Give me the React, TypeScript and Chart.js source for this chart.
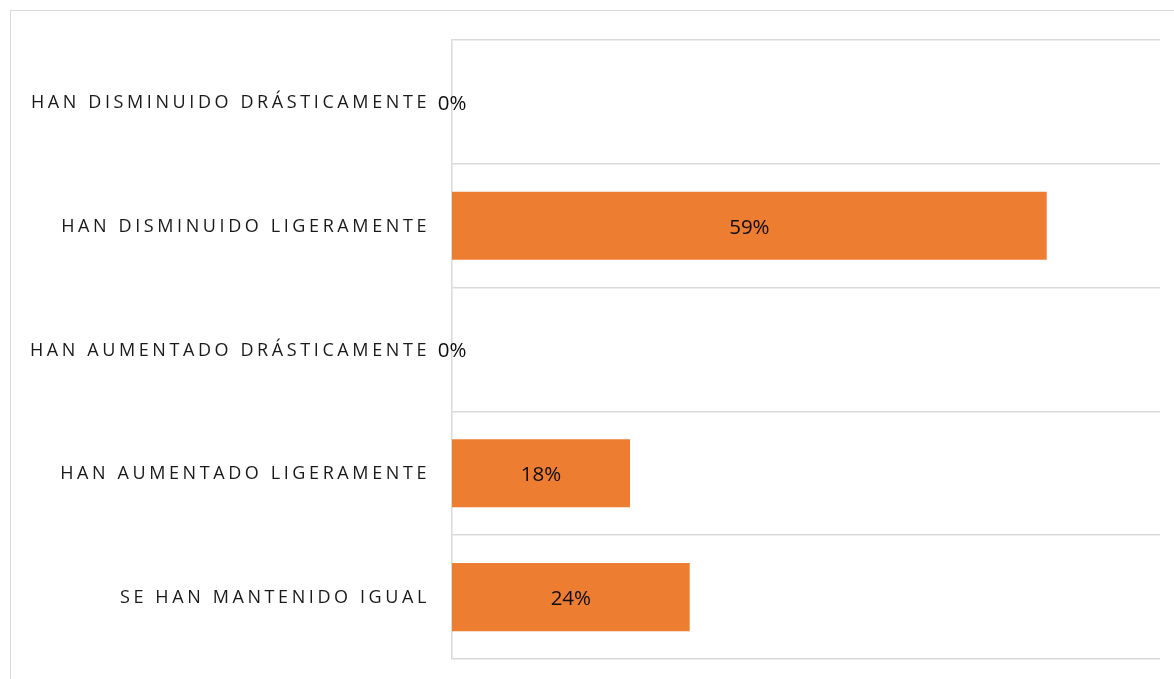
import React, { useEffect, useRef } from "react";
import { Chart, registerables } from "chart.js";

Chart.register(...registerables);

const categories = [
  "HAN DISMINUIDO DRÁSTICAMENTE",
  "HAN DISMINUIDO LIGERAMENTE",
  "HAN AUMENTADO DRÁSTICAMENTE",
  "HAN AUMENTADO LIGERAMENTE",
  "SE HAN MANTENIDO IGUAL",
];
const values = [0, 58.8, 0, 17.6, 23.5];
const valueLabels = ["0%", "59%", "0%", "18%", "24%"];

const FONT = "'Open Sans', 'Noto Sans', sans-serif";

const labelsPlugin = {
  id: "customLabels",
  afterDatasetsDraw(chart: any) {
    const ctx = chart.ctx;
    const meta = chart.getDatasetMeta(0);
    const yScale = chart.scales.y;
    ctx.save();
    // category labels
    ctx.font = `18px ${FONT}`;
    ctx.fillStyle = "#1a1a1a";
    ctx.textAlign = "right";
    ctx.textBaseline = "middle";
    (ctx as any).letterSpacing = "3.6px";
    categories.forEach((c, i) => {
      const y = yScale.getPixelForValue(i);
      ctx.fillText(c, chart.chartArea.left - 22, y + 1);
    });
    (ctx as any).letterSpacing = "0px";
    // value labels
    ctx.font = `20.5px ${FONT}`;
    ctx.fillStyle = "#0d0d0d";
    ctx.textAlign = "center";
    meta.data.forEach((bar: any, i: number) => {
      const cx = (bar.x + bar.base) / 2;
      ctx.fillText(valueLabels[i], cx, bar.y + 2);
    });
    ctx.restore();
  },
};

export default function App() {
  const ref = useRef<HTMLCanvasElement>(null);
  useEffect(() => {
    document.body.style.margin = "0";
    document.body.style.overflow = "hidden";
    const chart = new Chart(ref.current!, {
      type: "bar",
      data: {
        labels: categories,
        datasets: [
          {
            data: values,
            backgroundColor: "#ED7D31",
            borderWidth: 0,
            barPercentage: 0.55,
            categoryPercentage: 1,
          },
        ],
      },
      options: {
        indexAxis: "y",
        animation: false,
        responsive: false,
        maintainAspectRatio: false,
        layout: { padding: { left: 452, right: 14, top: 40, bottom: 20 } },
        plugins: { legend: { display: false }, tooltip: { enabled: false } },
        scales: {
          x: { display: false, min: 0, max: 70 },
          y: {
            display: true,
            ticks: { display: false },
            grid: { color: "#d9d9d9", lineWidth: 1.5, drawTicks: false, offset: true },
            border: { color: "#d9d9d9", width: 1.5 },
          },
        },
      },
      plugins: [labelsPlugin],
    });
    return () => chart.destroy();
  }, []);
  return (
    <div style={{ position: "relative", width: 1174, height: 679, overflow: "hidden", background: "#fff" }}>
      <div
        style={{
          position: "absolute",
          left: 10,
          top: 10,
          width: 1250,
          height: 750,
          border: "1.5px solid #d9d9d9",
          boxSizing: "border-box",
        }}
      />
      <canvas ref={ref} width={1174} height={679} style={{ position: "absolute", left: 0, top: 0 }} />
    </div>
  );
}
